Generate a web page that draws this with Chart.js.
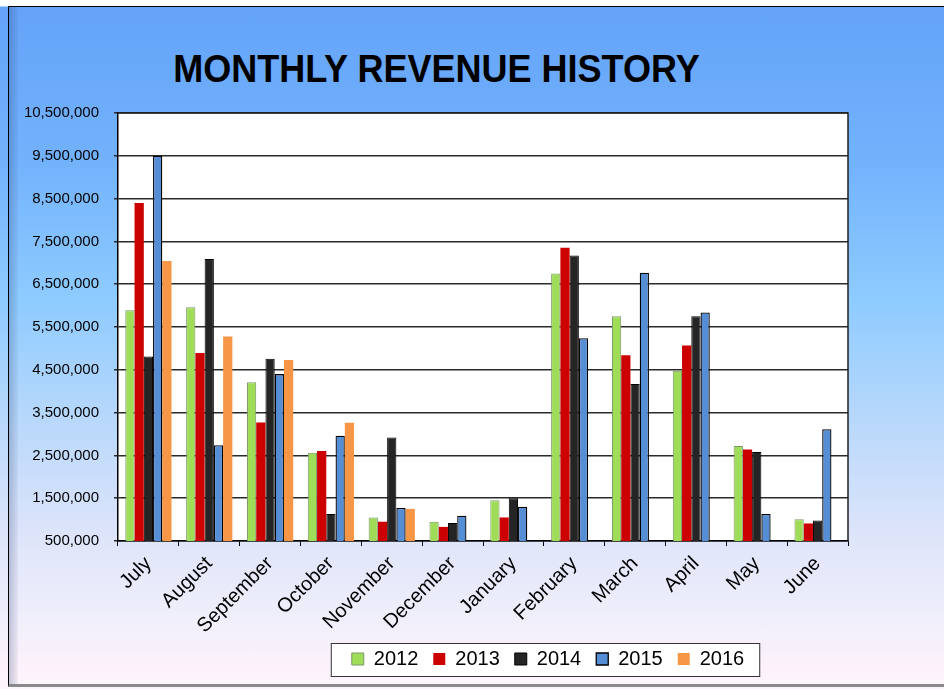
<!DOCTYPE html>
<html>
<head>
<meta charset="utf-8">
<script src="https://cdn.jsdelivr.net/npm/chart.js@4"></script>
<style>
    html, body { margin: 0; padding: 0; }
    body { width: 944px; height: 689px; overflow: hidden; position: relative; font-family: "Liberation Sans", Arial, sans-serif; }
    .bg {
        position: absolute; left: 0; top: 0; width: 944px; height: 689px;
        background: linear-gradient(to bottom, #ffffff 0px, #ffffff 6px, #64a3f8 7px, #72b2fc 160px, #8ecbff 300px, #b8d8fb 420px, #dfe5fa 540px, #eeeefb 610px, #fdf2fb 670px, #fcf4fc 684px);
    }
    .frame {
        position: absolute; left: 8px; top: 6px; width: 940px; height: 677px;
        border-left: 1px solid #000; border-top: 1px solid #000; border-bottom: 3px solid #8a8a8a;
    }
    .bevel {
        position: absolute; left: 9px; top: 7px; width: 9px; height: 677px;
        background: linear-gradient(to right, rgba(40,60,110,0.25), rgba(40,60,110,0.05));
    }
    .title {
        position: absolute; left: 0; width: 873px; top: 50px; text-align: center;
        font: bold 38px/38px "Liberation Sans", Arial, sans-serif; color: #000;
        transform: scaleX(0.948); transform-origin: 436px 0;
    }
    .wrap { position: absolute; left: 0; top: 0; width: 944px; height: 689px; }
</style>
</head>
<body>
<div class="bg"></div>
<div class="frame"></div>
<div class="bevel"></div>
<div class="title">MONTHLY REVENUE HISTORY</div>
<div class="wrap"><canvas id="chart"></canvas></div>
<script>
const months = ["July", "August", "September", "October", "November", "December", "January", "February", "March", "April", "May", "June"]
const rev2012 = [5890000, 5960000, 4210000, 2560000, 1050000, 950000, 1450000, 6750000, 5750000, 4480000, 2720000, 1010000]
const rev2013 = [8400000, 4890000, 3270000, 2600000, 950000, 830000, 1050000, 7350000, 4840000, 5070000, 2640000, 910000]
const rev2014 = [4810000, 7090000, 4760000, 1130000, 2920000, 920000, 1500000, 7170000, 4170000, 5750000, 2580000, 980000]
const rev2015 = [9500000, 2740000, 4400000, 2960000, 1270000, 1090000, 1300000, 5240000, 6770000, 5840000, 1130000, 3110000]
const rev2016 = [7040000, 5280000, 4730000, 3260000, 1250000, null, null, null, null, null, null, null]
const yMin = 500000
const yMax = 10500000
const yStep = 1000000

const FONT = "'Liberation Sans', Arial, sans-serif"
const PLOT_BOTTOM = 541
const PAD_BOTTOM = 6

// white plot area plus the closing top/right frame lines
const plotFrame = {
    id: "plotFrame",
    beforeDraw(chart) {
        const { ctx, chartArea: a } = chart
        ctx.save()
        ctx.fillStyle = "#ffffff"
        ctx.fillRect(a.left, a.top, a.right - a.left, a.bottom - a.top)
        ctx.restore()
    },
    afterDraw(chart) {
        const { ctx, chartArea: a } = chart
        ctx.save()
        ctx.strokeStyle = "#222"
        ctx.lineWidth = 1.5
        ctx.beginPath()
        ctx.moveTo(a.left, a.top)
        ctx.lineTo(a.right, a.top)
        ctx.lineTo(a.right, a.bottom)
        ctx.stroke()
        ctx.restore()
    },
}

// move the legend under the plot where the original had it, and box it
const legendBox = {
    id: "legendBox",
    afterLayout(chart) {
        const lg = chart.legend
        const dx = 548 - (lg.left + lg.right) / 2
        lg.left += dx
        lg.right += dx
        const h = lg.height
        lg.top = 634
        lg.bottom = 634 + h
    },
    afterDraw(chart) {
        const boxes = chart.legend.legendHitBoxes
        if (!boxes || !boxes.length) return
        const left = Math.min(...boxes.map((b) => b.left)) - 21
        const right = Math.max(...boxes.map((b) => b.left + b.width)) + 15
        const { ctx } = chart
        ctx.save()
        ctx.fillStyle = "#ffffff"
        ctx.globalCompositeOperation = "destination-over"
        ctx.fillRect(left, 643, right - left, 33)
        ctx.globalCompositeOperation = "source-over"
        ctx.strokeStyle = "#333"
        ctx.lineWidth = 1
        ctx.strokeRect(left + 0.5, 643.5, right - left, 33)
        ctx.restore()
    },
}

const series = [
    { label: "2012", data: rev2012, backgroundColor: "#9fdc58", borderColor: "#7d9868", borderWidth: 1 },
    { label: "2013", data: rev2013, backgroundColor: "#cc0000", borderColor: "#cc0000", borderWidth: 0 },
    { label: "2014", data: rev2014, backgroundColor: "#252525", borderColor: "#000000", borderWidth: 1 },
    { label: "2015", data: rev2015, backgroundColor: "#558ed5", borderColor: "#000000", borderWidth: 1.3 },
    { label: "2016", data: rev2016, backgroundColor: "#f79646", borderColor: "#f79646", borderWidth: 0 },
]

new Chart(document.getElementById("chart"), {
    type: "bar",
    data: {
        labels: months,
        datasets: series.map((s) => ({
            ...s,
            categoryPercentage: 0.76,
            barPercentage: 1.0,
            borderSkipped: "bottom",
        })),
    },
    options: {
        responsive: true,
        maintainAspectRatio: false,
        animation: false,
        layout: {
            padding: { left: 8, right: 96, top: 113, bottom: PAD_BOTTOM },
        },
        plugins: {
            title: { display: false },
            tooltip: { enabled: false },
            legend: {
                position: "bottom",
                labels: {
                    font: { family: FONT, size: 20 },
                    color: "#000",
                    boxWidth: 12,
                    boxHeight: 12,
                    padding: 15,
                },
            },
        },
        scales: {
            x: {
                afterFit: (s) => {
                    s.height = s.chart.height - PAD_BOTTOM - s.chart.legend.height - PLOT_BOTTOM
                },
                grid: {
                    drawOnChartArea: false,
                    drawTicks: true,
                    tickLength: 5,
                    color: "#000",
                    lineWidth: 1,
                },
                border: { color: "#000", width: 1.5 },
                ticks: {
                    autoSkip: false,
                    minRotation: 45,
                    maxRotation: 45,
                    padding: 6,
                    color: "#000",
                    font: { family: FONT, size: 20 },
                },
            },
            y: {
                min: yMin,
                max: yMax,
                afterFit: (s) => {
                    s.width = 110
                },
                grid: {
                    color: "#2a2a2a",
                    lineWidth: 1.5,
                    tickLength: 4,
                },
                border: { color: "#000", width: 1.5 },
                ticks: {
                    stepSize: yStep,
                    padding: 15,
                    color: "#000",
                    font: { family: FONT, size: 15 },
                    callback: (v) => v.toLocaleString("en-US"),
                },
            },
        },
    },
    plugins: [plotFrame, legendBox],
})
</script>
</body>
</html>
